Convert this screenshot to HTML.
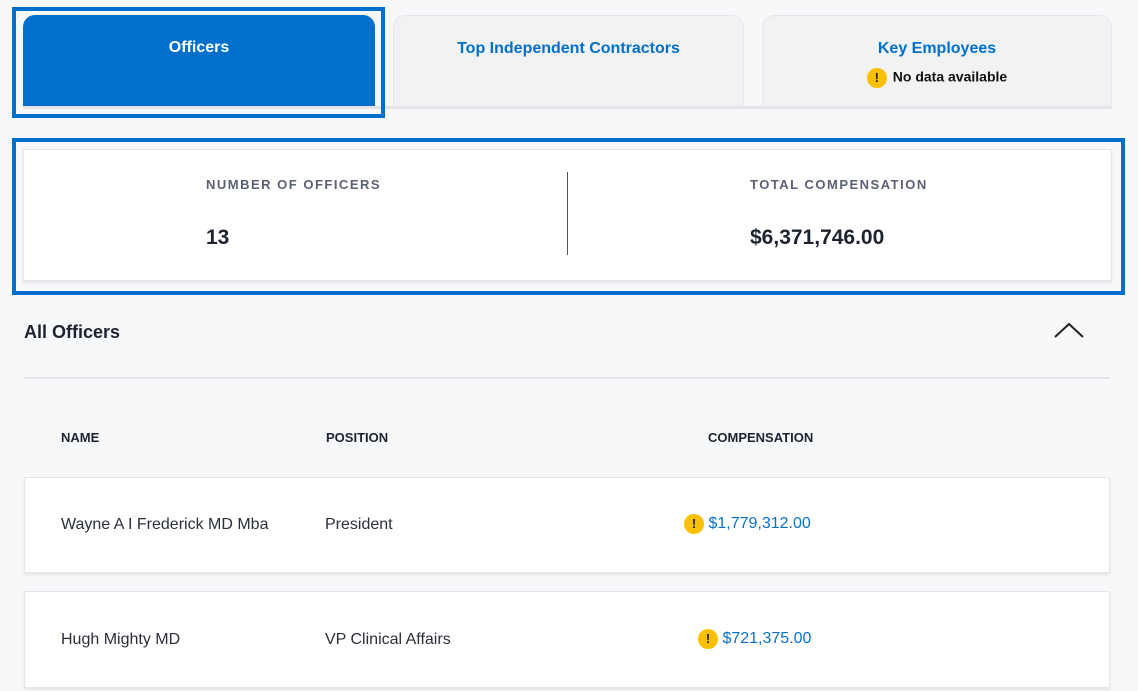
<!DOCTYPE html>
<html><head><style>
body{margin:0;width:1138px;height:691px;background:#f7f8fa;font-family:"Liberation Sans",sans-serif;position:relative;overflow:hidden;color:#1d2330}
.a{position:absolute}
.tab{position:absolute;top:15px;height:91px;border-radius:12px 12px 0 0;box-sizing:border-box;text-align:center;font-weight:bold;font-size:16px;color:#0070cc}
.lbl{font-size:13px;font-weight:bold;letter-spacing:1.5px;color:#5a6175}
.val{font-size:21px;font-weight:bold;color:#1d2330}
.hd{font-size:13px;font-weight:bold;color:#1d2330}
.row{position:absolute;left:24px;width:1086px;background:#fff;border:1px solid #e4e6ea;box-shadow:0 2px 3px rgba(0,0,0,.08);box-sizing:border-box}
.t{position:absolute;font-size:16px;color:#2a2f3a}
.warn{display:inline-block;width:20px;height:20px;border-radius:50%;background:#f9c000;color:#222;font-size:13px;font-weight:bold;text-align:center;line-height:20px;vertical-align:middle}
.money{color:#0a72cc;font-size:16px;vertical-align:middle}
</style></head><body>
<div class="a" style="left:23px;top:106px;width:1089px;height:3px;background:#e3e5e9"></div>
<div class="a" style="left:12px;top:7px;width:373px;height:111px;border:4px solid #0070cc;box-sizing:border-box"></div>
<div class="tab" style="left:23px;width:352px;background:#0070cc;color:#fff;padding-top:24px">Officers</div>
<div class="tab" style="left:393px;width:351px;background:#f1f2f4;border:1px solid #e4e6ea;border-bottom:none;padding-top:24px">Top Independent Contractors</div>
<div class="tab" style="left:762px;width:350px;background:#f1f2f4;border:1px solid #e4e6ea;border-bottom:none;padding-top:24px">Key Employees
<div style="margin-top:10px;font-size:14px;color:#111"><span class="warn" style="margin-right:6px">!</span>No data available</div></div>

<div class="a" style="left:12px;top:138px;width:1113px;height:157px;border:4px solid #0070cc;box-sizing:border-box"></div>
<div class="a" style="left:23px;top:149px;width:1089px;height:132px;background:#fff;border:1px solid #e4e6ea;box-sizing:border-box;box-shadow:0 2px 3px rgba(0,0,0,.08)"></div>
<div class="a" style="left:567px;top:172px;width:1px;height:83px;background:#555"></div>
<div class="a lbl" style="left:206px;top:177px">NUMBER OF OFFICERS</div>
<div class="a val" style="left:206px;top:226px">13</div>
<div class="a lbl" style="left:750px;top:177px">TOTAL COMPENSATION</div>
<div class="a val" style="left:750px;top:226px">$6,371,746.00</div>

<div class="a" style="left:24px;top:322px;font-size:18px;font-weight:bold">All Officers</div>
<svg class="a" style="left:1053px;top:320px" width="32" height="20"><polyline points="2,17 16,4 30,17" fill="none" stroke="#222" stroke-width="2"/></svg>
<div class="a" style="left:24px;top:377px;width:1086px;height:2px;background:#e3e5e9"></div>
<div class="a hd" style="left:61px;top:430px">NAME</div>
<div class="a hd" style="left:326px;top:430px">POSITION</div>
<div class="a hd" style="left:708px;top:430px">COMPENSATION</div>

<div class="row" style="top:477px;height:96px"></div>
<div class="t" style="left:61px;top:516px">Wayne A I Frederick MD Mba</div>
<div class="t" style="left:325px;top:516px">President</div>
<div class="a" style="left:684px;top:514px"><span class="warn">!</span> <span class="money">$1,779,312.00</span></div>

<div class="row" style="top:591px;height:97px"></div>
<div class="t" style="left:61px;top:631px">Hugh Mighty MD</div>
<div class="t" style="left:325px;top:631px">VP Clinical Affairs</div>
<div class="a" style="left:698px;top:629px"><span class="warn">!</span> <span class="money">$721,375.00</span></div>
</body></html>
